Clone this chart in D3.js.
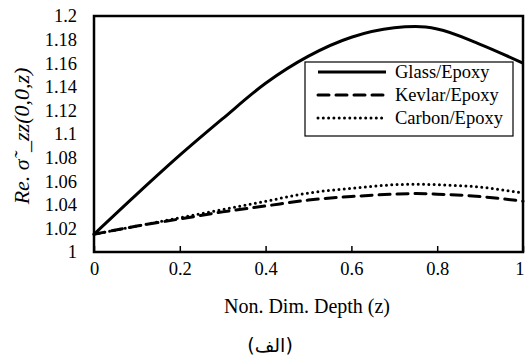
<!DOCTYPE html>
<html>
<head>
<meta charset="utf-8">
<script src="https://cdn.jsdelivr.net/npm/d3@7"></script>
<style>
  body { margin: 0; background: #fff; }
</style>
</head>
<body>
<script>
// data
const depth = [0, 0.1, 0.2, 0.3, 0.4, 0.5, 0.6, 0.7, 0.75, 0.8, 0.9, 1];
const glass = [1.015, 1.049, 1.082, 1.113, 1.143, 1.166, 1.182, 1.19, 1.191, 1.189, 1.176, 1.16];
const kevlar = [1.015, 1.022, 1.028, 1.034, 1.039, 1.044, 1.047, 1.049, 1.0495, 1.049, 1.047, 1.043];
const carbon = [1.015, 1.022, 1.029, 1.036, 1.043, 1.05, 1.054, 1.057, 1.0575, 1.057, 1.055, 1.05];
const seriesNames = ["Glass/Epoxy", "Kevlar/Epoxy", "Carbon/Epoxy"];
const xTicks = [0, 0.2, 0.4, 0.6, 0.8, 1];
const yTicks = [1, 1.02, 1.04, 1.06, 1.08, 1.1, 1.12, 1.14, 1.16, 1.18, 1.2];

const width = 526, height = 358;
const plotLeft = 94, plotRight = 523, plotTop = 16, plotBottom = 252;
const serif = "Liberation Serif, serif";

const svg = d3.select("body").append("svg")
    .attr("width", width)
    .attr("height", height);

const x = d3.scaleLinear().domain([0, 1]).range([plotLeft, plotRight]);
const y = d3.scaleLinear().domain([1, 1.2]).range([plotBottom, plotTop]);

// x axis, ticks inside the frame
svg.append("g")
    .attr("transform", `translate(0,${plotBottom})`)
    .call(d3.axisBottom(x).tickValues(xTicks).tickSize(-6).tickPadding(10).tickFormat(d3.format("")))
    .attr("font-family", serif)
    .attr("font-size", 18.5)
    .call(g => g.select(".domain").remove())
    .call(g => g.selectAll("line").attr("stroke", "#000").attr("stroke-width", 1.5))
    .call(g => g.selectAll("text").attr("fill", "#000"))
    .call(g => g.selectAll("text").filter(d => d === 1).attr("text-anchor", "end").attr("dx", 1));

// y axis, labels only
svg.append("g")
    .attr("transform", `translate(${plotLeft},0)`)
    .call(d3.axisLeft(y).tickValues(yTicks).tickSize(0).tickPadding(17).tickFormat(d3.format("")))
    .attr("font-family", serif)
    .attr("font-size", 18.5)
    .call(g => g.select(".domain").remove())
    .call(g => g.selectAll("text").attr("fill", "#000"));

// frame
svg.append("rect")
    .attr("x", plotLeft).attr("y", plotTop)
    .attr("width", plotRight - plotLeft).attr("height", plotBottom - plotTop)
    .attr("fill", "none").attr("stroke", "#000").attr("stroke-width", 2.5);

const styles = [
    { data: glass, dash: null, cap: "butt" },
    { data: kevlar, dash: "11,7", cap: "round" },
    { data: carbon, dash: "0,5.3", cap: "round" }
];

const line = d3.line()
    .x((d, i) => x(depth[i]))
    .y(d => y(d))
    .curve(d3.curveMonotoneX);

svg.append("g").selectAll("path")
    .data(styles)
    .join("path")
    .attr("d", d => line(d.data))
    .attr("fill", "none")
    .attr("stroke", "#000")
    .attr("stroke-width", 3)
    .attr("stroke-linecap", d => d.cap)
    .attr("stroke-dasharray", d => d.dash);

// legend
const legend = svg.append("g")
    .attr("font-family", serif)
    .attr("font-size", 18.5);
legend.append("rect")
    .attr("x", 305).attr("y", 62)
    .attr("width", 208).attr("height", 74)
    .attr("fill", "#fff").attr("stroke", "#000").attr("stroke-width", 1.2);

const rows = legend.selectAll("g.row")
    .data(styles)
    .join("g")
    .attr("class", "row")
    .attr("transform", (d, i) => `translate(0,${72 + i * 23})`);

rows.append("line")
    .attr("x1", 318).attr("x2", 386)
    .attr("stroke", "#000").attr("stroke-width", 3)
    .attr("stroke-linecap", d => d.cap)
    .attr("stroke-dasharray", d => d.dash);

rows.append("text")
    .attr("x", 395).attr("y", 6)
    .text((d, i) => seriesNames[i]);

// axis titles
svg.append("text")
    .attr("x", 307).attr("y", 313)
    .attr("text-anchor", "middle")
    .attr("font-family", serif)
    .attr("font-size", 20)
    .text("Non. Dim. Depth (z)");

svg.append("text")
    .attr("transform", "translate(29,136) rotate(-90)")
    .attr("text-anchor", "middle")
    .attr("font-family", serif)
    .attr("font-size", 22)
    .attr("font-style", "italic")
    .text("Re. σ˜_zz(0,0,z)");

svg.append("text")
    .attr("x", 270).attr("y", 352)
    .attr("text-anchor", "middle")
    .attr("font-family", "DejaVu Sans, sans-serif")
    .attr("font-size", 19)
    .text("(الف)");
</script>
</body>
</html>
